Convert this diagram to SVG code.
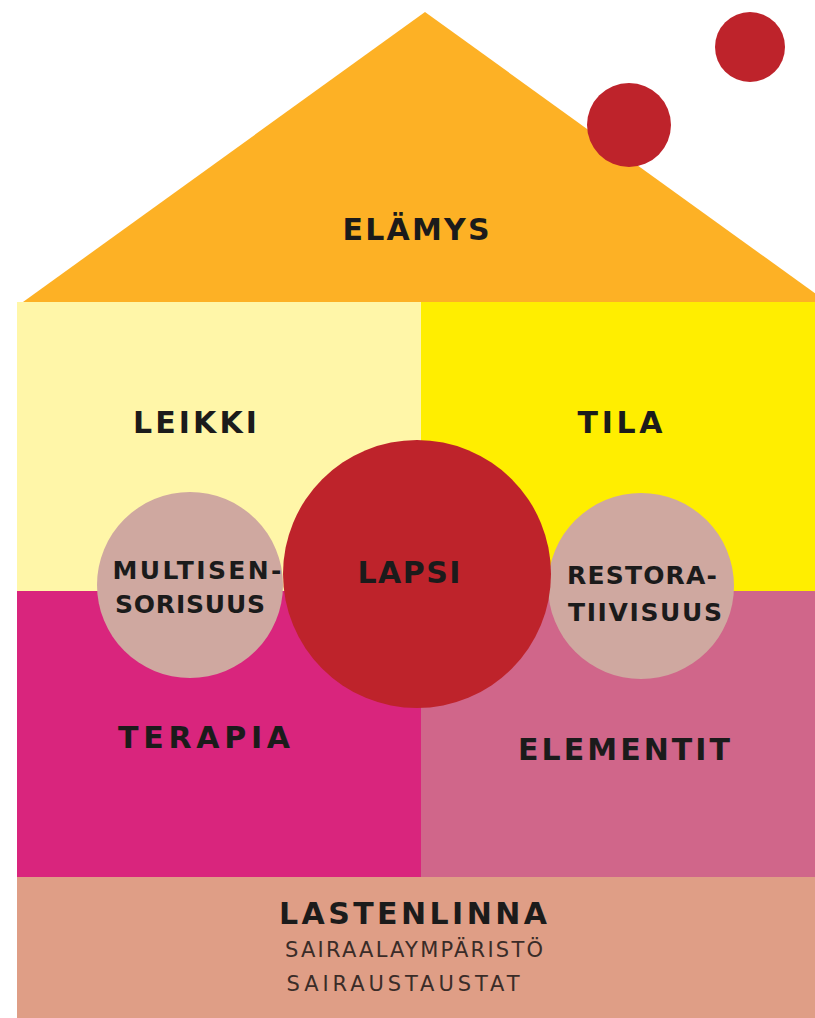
<svg xmlns="http://www.w3.org/2000/svg" width="815" height="1018" viewBox="0 0 815 1018">
<style>
.h{font-family:"DejaVu Sans","Liberation Sans",sans-serif;font-weight:bold;fill:#1b1b1b;text-anchor:middle}
.b{font-size:30px}
.s{font-size:25px}
.r{font-family:"DejaVu Sans","Liberation Sans",sans-serif;font-size:21px;fill:#3a2c28;text-anchor:middle}
</style>
<rect width="815" height="1018" fill="#ffffff"/>
<g id="roof">
<polygon points="425,12 23,302 827,302" fill="#FDB125"/>
<text class="h b" x="416" y="240" textLength="147" lengthAdjust="spacing">ELÄMYS</text>
</g>
<g id="chimney-dots">
<circle cx="629" cy="125" r="42" fill="#BE232B"/>
<circle cx="750" cy="47" r="35" fill="#BE232B"/>
</g>
<g id="leikki">
<rect x="17" y="302" width="404" height="290" fill="#FFF6A8"/>
<text class="h b" x="195" y="433" textLength="124" lengthAdjust="spacing">LEIKKI</text>
</g>
<g id="tila">
<rect x="421" y="302" width="394" height="290" fill="#FFEE00"/>
<text class="h b" x="620" y="433" textLength="85" lengthAdjust="spacing">TILA</text>
</g>
<g id="terapia">
<rect x="17" y="591" width="404" height="286" fill="#D9257D"/>
<text class="h b" x="204" y="748" textLength="172" lengthAdjust="spacing">TERAPIA</text>
</g>
<g id="elementit">
<rect x="421" y="591" width="394" height="286" fill="#D0668A"/>
<text class="h b" x="624" y="760" textLength="212" lengthAdjust="spacing">ELEMENTIT</text>
</g>
<g id="lastenlinna">
<rect x="17" y="877" width="798" height="141" fill="#DF9E86"/>
<text class="h b" x="413" y="924" textLength="268" lengthAdjust="spacing">LASTENLINNA</text>
<text class="r" x="414" y="957" textLength="258" lengthAdjust="spacing">SAIRAALAYMPÄRISTÖ</text>
<text class="r" x="403" y="991" textLength="233" lengthAdjust="spacing">SAIRAUSTAUSTAT</text>
</g>
<g id="multisensorisuus">
<circle cx="190" cy="585" r="93" fill="#CFA8A0"/>
<text class="h s" x="197" y="579" textLength="169" lengthAdjust="spacing">MULTISEN-</text>
<text class="h s" x="190" y="613" textLength="150" lengthAdjust="spacing">SORISUUS</text>
</g>
<g id="restoratiivisuus">
<circle cx="641" cy="586" r="93" fill="#CFA8A0"/>
<text class="h s" x="642" y="584" textLength="150" lengthAdjust="spacing">RESTORA-</text>
<text class="h s" x="645" y="621" textLength="154" lengthAdjust="spacing">TIIVISUUS</text>
</g>
<g id="lapsi">
<circle cx="417" cy="574" r="134" fill="#BE232B"/>
<text class="h b" x="409" y="583" textLength="103" lengthAdjust="spacing">LAPSI</text>
</g>
<g id="connectors"/>
</svg>
